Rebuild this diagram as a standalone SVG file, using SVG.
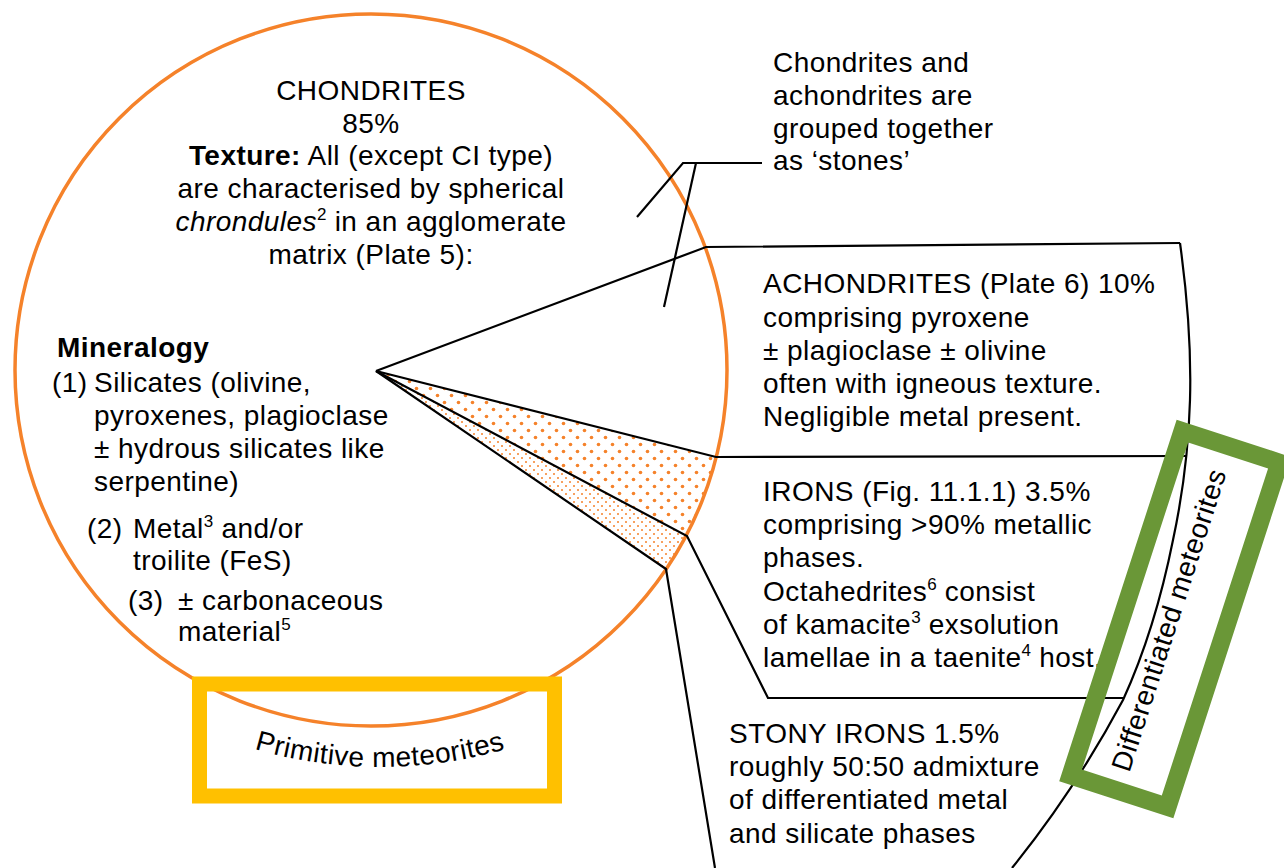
<svg xmlns="http://www.w3.org/2000/svg" width="1284" height="868" viewBox="0 0 1284 868">
<style>
text{font-family:"Liberation Sans",Arial,sans-serif;font-size:28px;letter-spacing:0.45px;fill:#000}
.c{text-anchor:middle}
.b{font-weight:bold}
.i{font-style:italic}
.ln{fill:none;stroke:#000;stroke-width:2.2;stroke-linejoin:miter}
.sup{font-size:17px;letter-spacing:0}
</style>
<defs>
<pattern id="bigdots" width="14" height="14" patternUnits="userSpaceOnUse">
<circle cx="3.5" cy="3.5" r="1.8" fill="#F5822A"/>
<circle cx="10.5" cy="10.5" r="1.8" fill="#F5822A"/>
</pattern>
<pattern id="smalldots" width="8" height="8" patternUnits="userSpaceOnUse">
<circle cx="2" cy="2" r="1" fill="#F5822A"/>
<circle cx="6" cy="6" r="1" fill="#F5822A"/>
</pattern>
<path id="primArc" d="M200,729.4 A450,450 0 0 0 560,729.4"/>
</defs>
<rect width="1284" height="868" fill="#fff"/>

<g id="chondrites">
<circle cx="371" cy="370" r="356" fill="none" stroke="#F5822A" stroke-width="3.5"/>
<text class="c" x="371" y="99.5">CHONDRITES</text>
<text class="c" x="371" y="132.5">85%</text>
<text class="c" x="371" y="165"><tspan class="b">Texture:</tspan> All (except CI type)</text>
<text class="c" x="371" y="198">are characterised by spherical</text>
<text class="c" x="371" y="231"><tspan class="i">chrondules</tspan><tspan class="sup" dy="-11">2</tspan><tspan dy="11"> in an agglomerate</tspan></text>
<text class="c" x="371" y="264">matrix (Plate 5):</text>
<text class="b" x="57" y="357">Mineralogy</text>
<text x="52" y="392">(1)</text>
<text x="94" y="392">Silicates (olivine,</text>
<text x="94" y="425">pyroxenes, plagioclase</text>
<text x="94" y="458">± hydrous silicates like</text>
<text x="94" y="491">serpentine)</text>
<text x="87" y="538">(2)</text>
<text x="133" y="538">Metal<tspan class="sup" dy="-11">3</tspan><tspan dy="11"> and/or</tspan></text>
<text x="133" y="570">troilite (FeS)</text>
<text x="128" y="610">(3)</text>
<text x="178" y="610">± carbonaceous</text>
<text x="178" y="641">material<tspan class="sup" dy="-11">5</tspan></text>
</g>

<g id="wedges">
<path d="M376,371 L716,457 A356,356 0 0 1 687,536 Z" fill="url(#bigdots)"/>
<path d="M376,371 L687,536 A356,356 0 0 1 666,569 Z" fill="url(#smalldots)"/>
</g>

<g id="connectors">
<polyline class="ln" points="376,371 706,247 1180,243"/>
<path class="ln" d="M1180,243 Q1192,330 1190,400 Q1188,470 1173,540 Q1155,630 1123,700 Q1075,790 1012,868"/>
<polyline class="ln" points="376,371 716,457 1186,456"/>
<polyline class="ln" points="376,371 687,536 768,698 1124,698"/>
<polyline class="ln" points="376,371 666,569 715,868"/>
<polyline class="ln" points="637,217 683,163 762,163"/>
<line class="ln" x1="696" y1="163" x2="664" y2="307"/>
</g>

<g id="stones-note">
<text x="773" y="72">Chondrites and</text>
<text x="773" y="105">achondrites are</text>
<text x="773" y="138">grouped together</text>
<text x="773" y="170">as ‘stones’</text>
</g>

<g id="achondrites">
<text x="763" y="293">ACHONDRITES (Plate 6) 10%</text>
<text x="763" y="326.5">comprising pyroxene</text>
<text x="763" y="359.5">± plagioclase ± olivine</text>
<text x="763" y="392.5">often with igneous texture.</text>
<text x="763" y="426">Negligible metal present.</text>
</g>

<g id="irons">
<text x="763" y="501">IRONS (Fig. 11.1.1) 3.5%</text>
<text x="763" y="534">comprising &gt;90% metallic</text>
<text x="763" y="567">phases.</text>
<text x="763" y="600.5">Octahedrites<tspan class="sup" dy="-11">6</tspan><tspan dy="11"> consist</tspan></text>
<text x="763" y="634">of kamacite<tspan class="sup" dy="-11">3</tspan><tspan dy="11"> exsolution</tspan></text>
<text x="763" y="667">lamellae in a taenite<tspan class="sup" dy="-11">4</tspan><tspan dy="11"> host.</tspan></text>
</g>

<g id="stony-irons">
<text x="729" y="743">STONY IRONS 1.5%</text>
<text x="729" y="776">roughly 50:50 admixture</text>
<text x="729" y="809">of differentiated metal</text>
<text x="729" y="842.5">and silicate phases</text>
</g>

<g id="primitive-label">
<rect x="199.5" y="684" width="355" height="112" fill="none" stroke="#FFC000" stroke-width="15"/>
<text><textPath href="#primArc" startOffset="50%" text-anchor="middle">Primitive meteorites</textPath></text>
</g>

<g id="differentiated-label">
<rect x="-51" y="-181" width="102" height="362" fill="none" stroke="#6A9737" stroke-width="18" transform="translate(1175,619) rotate(18)"/>
<text class="c" transform="translate(1178,623) rotate(-72)">Differentiated meteorites</text>
</g>
</svg>
